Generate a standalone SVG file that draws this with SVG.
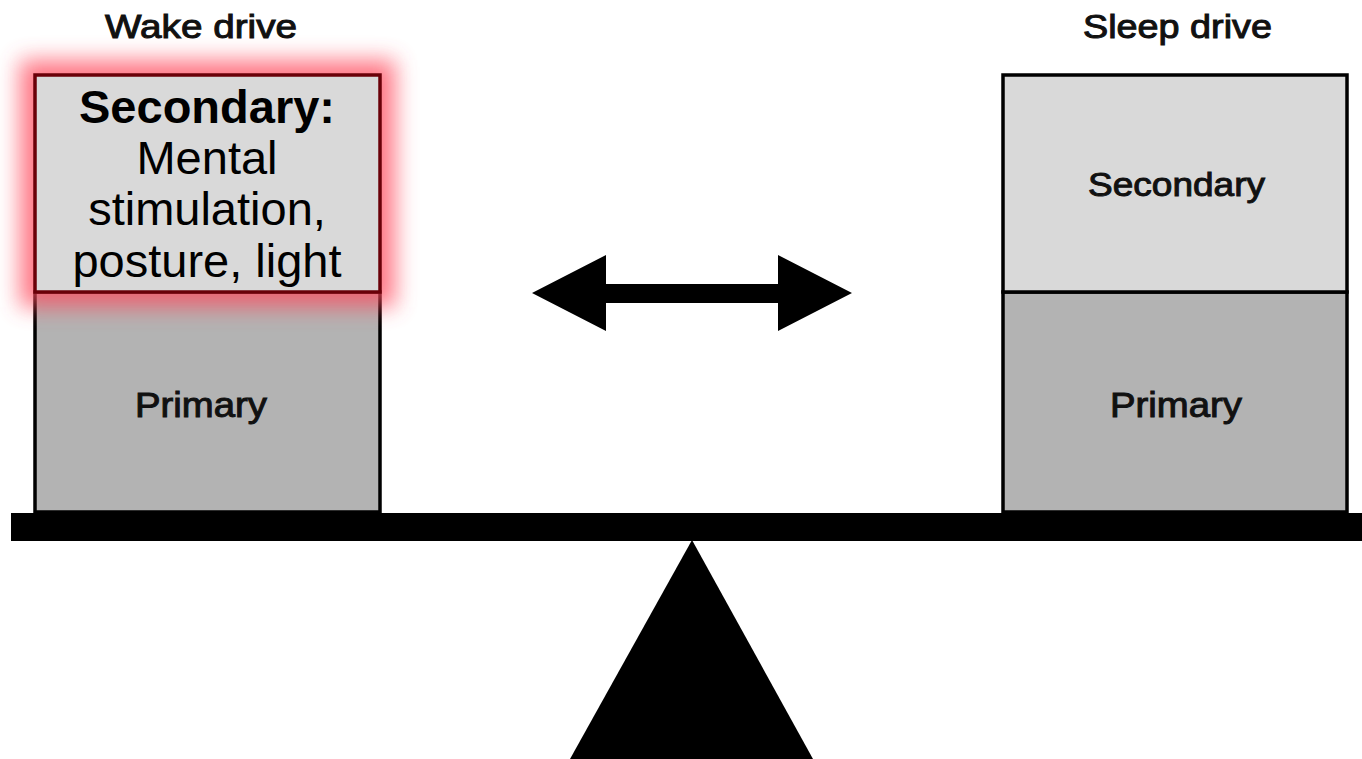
<svg xmlns="http://www.w3.org/2000/svg" width="1362" height="759" viewBox="0 0 1362 759">
<style>
.lbl{font-family:"Liberation Sans",Arial,sans-serif;fill:#111;stroke:#111;stroke-width:1}
.big{font-family:"Liberation Sans",Arial,sans-serif;fill:#000;font-size:47px;text-anchor:middle}
.sec{fill:#d9d9d9}
.pri{fill:#b3b3b3}
</style>
<defs>
<filter id="glow" x="-40%" y="-40%" width="180%" height="180%">
<feGaussianBlur stdDeviation="11"/>
</filter>
</defs>
<rect width="1362" height="759" fill="#fff"/>
<g id="wake">
<text class="lbl" x="105" y="38" font-size="33" textLength="192" lengthAdjust="spacingAndGlyphs">Wake drive</text>
<rect class="pri" x="35" y="292" width="345" height="220" stroke="#000" stroke-width="3.5"/>
<rect x="35" y="75" width="345" height="217" fill="#ff4a5c" stroke="#ff4a5c" stroke-width="30" opacity="0.75" filter="url(#glow)"/>
<rect class="sec" x="35" y="75" width="345" height="217" stroke="#6a0008" stroke-width="3.5"/>
<text class="lbl" x="135" y="417" font-size="35" textLength="132" lengthAdjust="spacingAndGlyphs">Primary</text>
<text class="big" x="207" y="123" font-weight="bold" font-size="45">Secondary:</text>
<text class="big" x="207" y="174">Mental</text>
<text class="big" x="207" y="225">stimulation,</text>
<text class="big" x="207" y="277">posture, light</text>
</g>
<g id="sleep">
<text class="lbl" x="1083" y="38" font-size="33" textLength="189" lengthAdjust="spacingAndGlyphs">Sleep drive</text>
<rect class="pri" x="1003" y="292" width="344" height="220" stroke="#000" stroke-width="3.5"/>
<rect class="sec" x="1003" y="75" width="344" height="217" stroke="#000" stroke-width="3.5"/>
<text class="lbl" x="1088" y="196" font-size="34" textLength="177" lengthAdjust="spacingAndGlyphs">Secondary</text>
<text class="lbl" x="1110" y="417" font-size="35" textLength="132" lengthAdjust="spacingAndGlyphs">Primary</text>
</g>
<g id="scale">
<rect x="11" y="513" width="1351" height="28" fill="#000"/>
<polygon points="692,540 570,759 813,759" fill="#000"/>
</g>
<g id="connectors">
<polygon points="532,293 606,255 606,284 778,284 778,255 852,293 778,331 778,303 606,303 606,331" fill="#000"/>
</g>
</svg>
